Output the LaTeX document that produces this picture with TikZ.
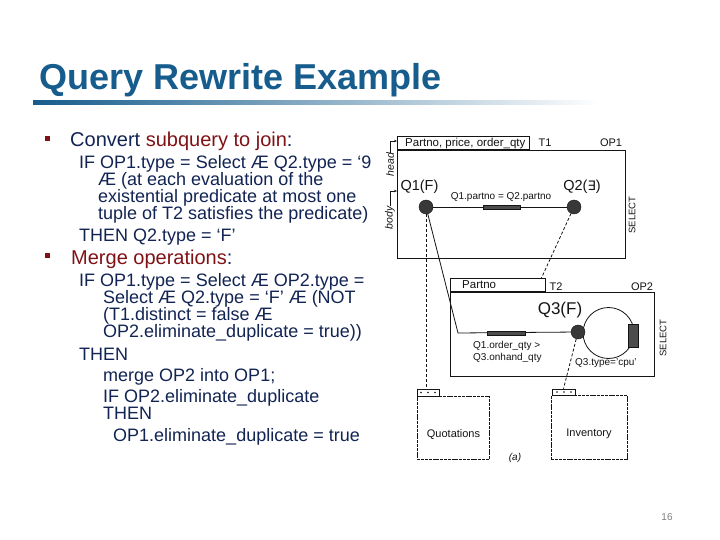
\documentclass[tikz,border=0pt]{standalone}
\usepackage{fontspec}
\setmainfont{Liberation Sans}
\newfontfamily\dejavu{DejaVu Sans}
\usetikzlibrary{arrows.meta}
\definecolor{titleblue}{RGB}{22,92,140}
\definecolor{navy}{RGB}{18,36,84}
\definecolor{darkred}{RGB}{128,18,22}
\definecolor{ink}{RGB}{20,20,20}
\newcommand{\fsz}[1]{\fontsize{#1}{#1}\selectfont}
\begin{document}
\begin{tikzpicture}[x=1pt,y=-1pt,
  txt/.style={anchor=base west, inner sep=0, text=navy, font=\fsz{18}},
  bul/.style={anchor=base west, inner sep=0, font=\fsz{20}},
  fig/.style={draw=ink, line width=0.8pt},
  lbl/.style={inner sep=0, text=ink, font=\fsz{10.5}},
  dot/.style={circle, draw=ink, fill=black!78, minimum size=14pt, inner sep=0},
  cond/.style={rectangle, draw=ink, fill=black!70, minimum height=4pt, inner sep=0},
  dline/.style={fig, dash pattern=on 3pt off 2pt},
  tbox/.style={draw=ink, line width=0.6pt, dash pattern=on 3pt off 0.8pt, inner sep=0, anchor=north west},
  tab/.style={draw=ink, line width=0.6pt, inner sep=0},
  arr/.style={fig, line width=0.7pt, -{Stealth[length=3pt,width=2.5pt]}}]
\useasboundingbox (0,0) rectangle (720,540);
\fill[white] (0,0) rectangle (720,540);
% title
\node[anchor=base west, inner sep=0, font=\fsz{36}\bfseries, text=titleblue] (title) at (39,90) {Query Rewrite Example};
\shade[left color=titleblue, right color=white] (33,101) rectangle (600,105);
% bullets
\fill[darkred] (45,136) rectangle (50,141);
\fill[darkred] (45,253) rectangle (50,258);
\node[bul, text=navy] (b1) at (70,147) {Convert \textcolor{darkred}{subquery to join}:};
\node[txt] (l1) at (79,169) {IF OP1.type = Select Æ Q2.type = ‘9};
\node[txt] (l2) at (98,185.5) {Æ (at each evaluation of the};
\node[txt] (l3) at (98,202.5) {existential predicate at most one};
\node[txt] (l4) at (98,219) {tuple of T2 satisfies the predicate)};
\node[txt] (l5) at (79,241.5) {THEN Q2.type = ‘F’};
\node[bul, text=darkred] (b2) at (71,264) {Merge operations\textcolor{navy}{:}};
\node[txt] (m1) at (79,286.5) {IF OP1.type = Select Æ OP2.type =};
\node[txt] (m2) at (103,303.5) {Select Æ Q2.type = ‘F’ Æ (NOT};
\node[txt] (m3) at (103,320.5) {(T1.distinct = false Æ};
\node[txt] (m4) at (103,337.5) {OP2.eliminate\_duplicate = true))};
\node[txt] (m5) at (79,360.5) {THEN};
\node[txt] (m6) at (103,381.5) {merge OP2 into OP1;};
\node[txt] (m7) at (103,402.5) {IF OP2.eliminate\_duplicate};
\node[txt] (m8) at (103,419.5) {THEN};
\node[txt] (m9) at (113,441.5) {OP1.eliminate\_duplicate = true};
% figure background
\fill[white] (374,128) rectangle (690,470);
% OP1
\node[fig, rectangle, minimum width=132pt, minimum height=13pt, anchor=south west, inner sep=0] (t1h) at (397,150) {};
\node[fig, rectangle, minimum width=228pt, minimum height=108pt, anchor=north west, inner sep=0] (op1) at (397,150) {};
\node[lbl, anchor=base west, font=\fsz{11.5}] (t1attr) at (405,146.5) {Partno, price, order\_qty};
\node[lbl, font=\fsz{11}] (t1lab) at (545,143) {T1};
\node[lbl, font=\fsz{11}] (op1lab) at (611,143) {OP1};
\node[lbl, rotate=90, font=\fsz{10.5}\itshape] (headl) at (390,164.5) {head};
\node[lbl, rotate=90, font=\fsz{10.5}\itshape] (bodyl) at (390,218) {body};
\coordinate (harr) at (397,141);
\coordinate (barr) at (397,191);
\draw[arr] (headl.east) |- (harr);
\draw[arr] (bodyl.east) |- (barr);
\node[lbl, font=\fsz{14.5}] (q1lab) at (419.5,187) {Q1(F)};
\node[lbl, font=\fsz{14.5}] (q2lab) at (582,187) {Q2({\dejavu\fsz{13}∃})};
\node[lbl, rotate=90, font=\fsz{9.5}] (sel1) at (632,215) {SELECT};
\node[dot] (q1) at (426,207) {};
\node[dot] (q2) at (574,207) {};
\draw[fig] (q1) -- (q2);
\node[cond, minimum width=37pt] (c1) at (501.5,207) {};
\node[lbl, font=\fsz{10}] (c1lab) at (501,197) {Q1.partno = Q2.partno};
% OP2
\node[fig, rectangle, minimum width=95pt, minimum height=13pt, anchor=south west, inner sep=0] (t2h) at (450,292) {};
\node[fig, rectangle, minimum width=204pt, minimum height=84pt, anchor=north west, inner sep=0] (op2) at (450,292) {};
\node[lbl, anchor=base west, font=\fsz{11.5}] (t2attr) at (462,288) {Partno};
\node[lbl, font=\fsz{11}] (t2lab) at (556,287) {T2};
\node[lbl, font=\fsz{11}] (op2lab) at (642,287) {OP2};
\node[lbl, font=\fsz{17}] (q3lab) at (560,310) {Q3(F)};
\node[fig, circle, minimum size=51pt, inner sep=0] (loop) at (608.5,333) {};
\node[cond, minimum width=10pt, minimum height=23pt] (c3) at (633,336) {};
\node[dot] (q3) at (578,332) {};
\node[lbl, rotate=90, font=\fsz{9.5}] (sel2) at (663,338) {SELECT};
\node[lbl, anchor=west, font=\fsz{10}] (c2lab1) at (473,346) {Q1.order\_qty >};
\node[lbl, anchor=west, font=\fsz{10}] (c2lab2) at (473,357.5) {Q3.onhand\_qty};
\node[lbl, anchor=west, font=\fsz{10}] (c3lab) at (575,363.5) {Q3.type='cpu'};
\coordinate (bend) at (458,333);
\draw[fig] (q1) -- (bend) -- (q3);
\node[cond, minimum width=38pt] (c2) at (506,333) {};
\coordinate (t2top) at (541,279);
\draw[dline] (q2) -- (t2top);
% tables
\node[tab, minimum width=22pt, minimum height=7pt] (qtab) at (428,392.5) {};
\node[tbox, minimum width=72pt, minimum height=63pt] (qbox) at (417,396) {};
\node[tab, minimum width=23pt, minimum height=6pt] (itab) at (563.5,392) {};
\node[tbox, minimum width=76pt, minimum height=64pt] (ibox) at (551,395) {};
\foreach \xx in {421,428,435} \fill[ink] (\xx,392.5) circle (0.9pt);
\foreach \xx in {557,564,571} \fill[ink] (\xx,392) circle (0.9pt);
\node[lbl, font=\fsz{11}] (qlab) at (453.5,435) {Quotations};
\node[lbl, font=\fsz{11}] (ilab) at (589,434) {Inventory};
\draw[dline] (q1) -- (q1 |- qtab.north);
\draw[dline] (q3) -- (itab.north);
\node[lbl, font=\fsz{10}\itshape] (alab) at (515,458) {(a)};
% page number
\node[inner sep=0, text=gray, font=\fsz{10}] (pnum) at (667,517) {16};
\end{tikzpicture}
\end{document}
